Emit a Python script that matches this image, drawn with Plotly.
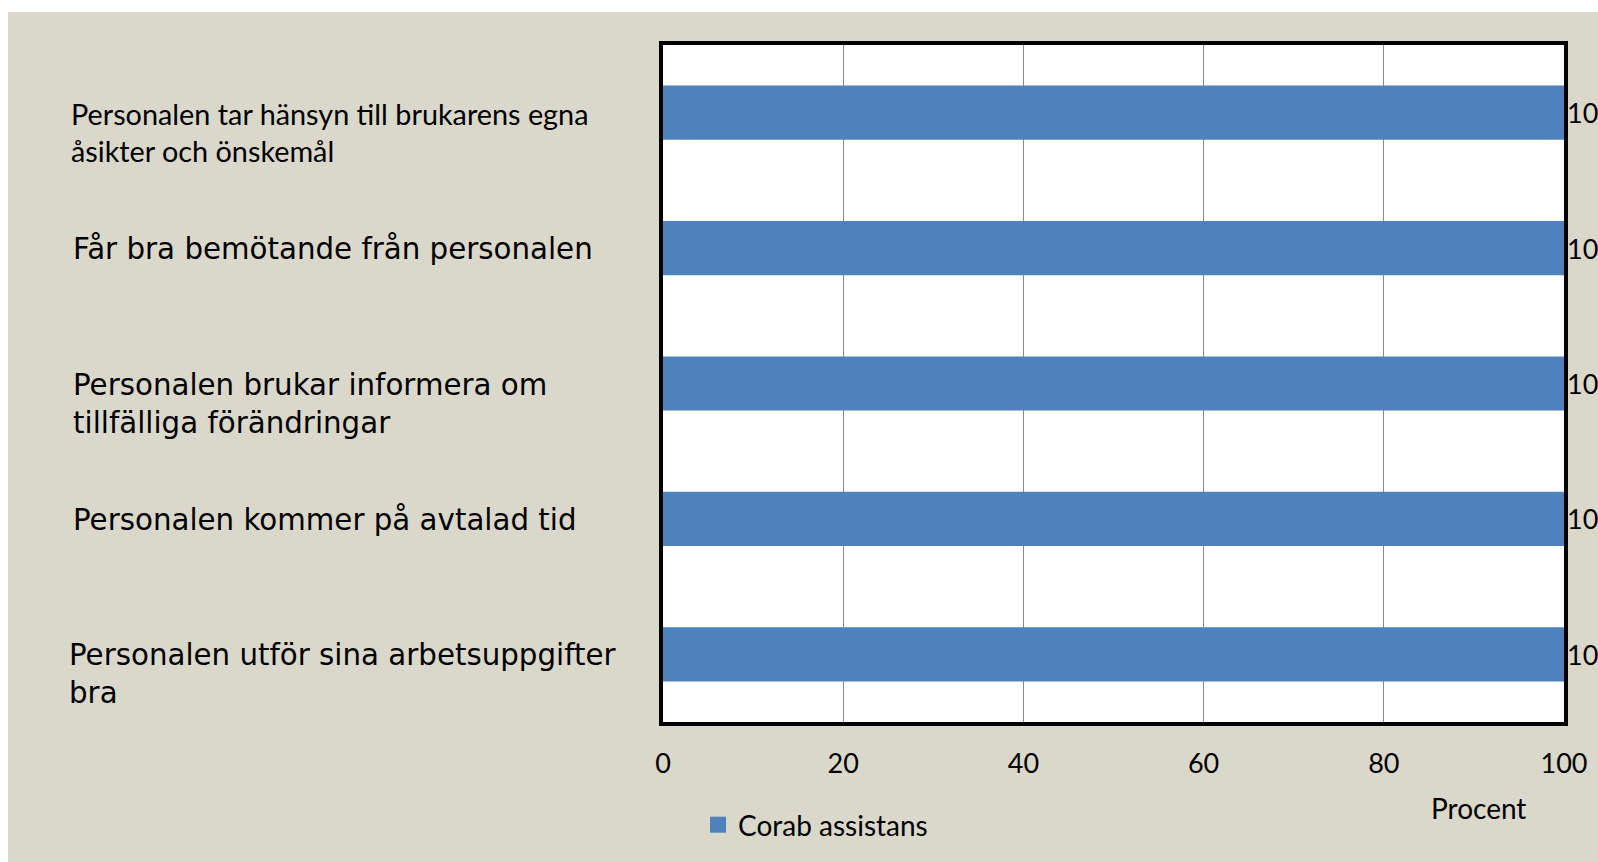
import plotly.graph_objects as go

categories = [
    "Personalen tar hänsyn till brukarens egna<br>åsikter och önskemål",
    "Får bra bemötande från personalen",
    "Personalen brukar informera om<br>tillfälliga förändringar",
    "Personalen kommer på avtalad tid",
    "Personalen utför sina arbetsuppgifter<br>bra",
]
values = [100, 100, 100, 100, 100]
value_labels = ["100", "100", "100", "100", "100"]
series_name = "Corab assistans"
x_ticks = [0, 20, 40, 60, 80, 100]
x_title = "Procent"

W, H = 1598, 862
ML, MR, MT, MB = 663, 34, 45, 140
pw, ph = W - ML - MR, H - MT - MB

BEIGE = "#DAD8CB"
BLUE = "#4F81BD"

fig = go.Figure()
fig.add_trace(go.Bar(
    x=values, y=categories, orientation="h", name=series_name,
    marker=dict(color=BLUE, line=dict(width=0)),
    width=0.4,
    text=value_labels, textposition="outside", cliponaxis=False,
    textfont=dict(family="Lato", size=27, color="black"),
    showlegend=False,
))
# legend entry with a larger square swatch
fig.add_trace(go.Scatter(
    x=[None], y=[None], mode="markers", name=series_name,
    marker=dict(symbol="square", size=16, color=BLUE),
    showlegend=True, hoverinfo="skip",
))

annotations = []
label_fonts = ["Lato", "DejaVu Sans", "DejaVu Sans", "DejaVu Sans", "DejaVu Sans"]
label_sizes = [28.8, 29.3, 29.3, 29.3, 29.3]
label_x = [69, 71, 71, 71, 67]
for i, c in enumerate(categories):
    nlines = c.count("<br>") + 1
    lh = label_sizes[i] * 1.3
    annotations.append(dict(
        x=(label_x[i] - ML) / pw, xref="paper", xanchor="left",
        y=c, yref="y", yanchor="middle",
        yshift=-(nlines - 1) * lh / 2 - 1,
        text=c, align="left", showarrow=False,
        font=dict(family=label_fonts[i], size=label_sizes[i], color="black"),
    ))
annotations.append(dict(
    x=(1478 - ML) / pw, xref="paper", xanchor="center",
    y=(H - MB - 808) / ph, yref="paper", yanchor="middle",
    text=x_title, showarrow=False,
    font=dict(family="Lato", size=28, color="black"),
))

shapes = [
    # white strips above and left of the beige panel
    dict(type="rect", xref="paper", yref="paper", layer="below",
         x0=-ML / pw - 0.01, x1=(W - ML) / pw + 0.01, y0=(H - MB - 12) / ph, y1=(H - MB) / ph + 0.01,
         fillcolor="white", line=dict(width=0)),
    dict(type="rect", xref="paper", yref="paper", layer="below",
         x0=-ML / pw - 0.01, x1=(8 - ML) / pw, y0=-MB / ph - 0.01, y1=(H - MB) / ph + 0.01,
         fillcolor="white", line=dict(width=0)),
]

fig.update_layout(
    width=W, height=H,
    margin=dict(l=ML, r=MR, t=MT, b=MB, pad=0),
    paper_bgcolor=BEIGE, plot_bgcolor="white",
    xaxis=dict(
        range=[0, 100], tickvals=x_ticks, ticktext=[str(t) for t in x_ticks],
        showgrid=True, gridcolor="#8A8A8A", gridwidth=1,
        showline=True, linecolor="black", linewidth=4, mirror=True,
        ticks="", ticklabelstandoff=15, zeroline=False,
        tickfont=dict(family="Lato", size=27, color="black"),
    ),
    yaxis=dict(
        categoryorder="array", categoryarray=categories, autorange="reversed",
        showticklabels=False, showgrid=False,
        showline=True, linecolor="black", linewidth=4, mirror=True,
        ticks="",
    ),
    legend=dict(
        x=(698 - ML) / pw, xanchor="left", y=(H - MB - 825) / ph, yanchor="middle",
        orientation="h", bgcolor="rgba(0,0,0,0)",
        font=dict(family="Lato", size=28, color="black"),
    ),
    annotations=annotations,
    shapes=shapes,
)

fig.write_html(
    "out.html",
    config={"displayModeBar": False},
    post_script="document.body.style.margin='0';document.body.style.overflow='hidden';",
)
